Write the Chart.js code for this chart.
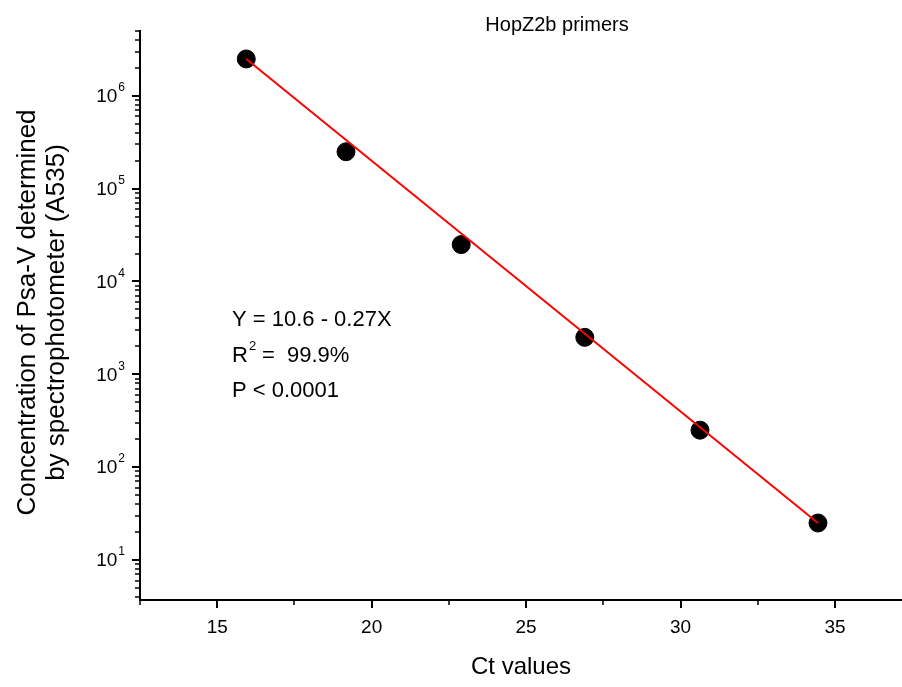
<!DOCTYPE html>
<html>
<head>
<meta charset="utf-8">
<script src="https://cdn.jsdelivr.net/npm/chart.js@4"></script>
<style>html,body{margin:0;padding:0;background:#fff;}</style>
</head>
<body>
<canvas id="c" width="902" height="687"></canvas>
<script>
// data
const ctValues = [15.94, 19.17, 22.9, 26.9, 30.63, 34.45];
const concentration = [2.5e6, 2.5e5, 2.5e4, 2.5e3, 250, 25];
// regression line end points
const fitX = [15.94, 34.45];
const fitY = [2.5e6, 25];
const xTicks = [15, 20, 25, 30, 35];
const xMinor = [12.5, 17.5, 22.5, 27.5, 32.5, 37.5];
const yTicks = [10, 100, 1e3, 1e4, 1e5, 1e6];
const yExp = ['1', '2', '3', '4', '5', '6'];

const FONT = '"Liberation Sans", Arial, sans-serif';

// minor log ticks 2..9 per decade
function yMinorTicks(min, max){
  const out = [];
  for(let d = 0; d <= 6; d++){
    for(let k = 2; k <= 9; k++){
      const v = k * Math.pow(10, d);
      if(v >= min && v <= max) out.push(v);
    }
  }
  return out;
}

const decor = {
  id: 'decor',
  afterDraw(chart){
    const c = chart.ctx, xs = chart.scales.x, ys = chart.scales.y, a = chart.chartArea;
    c.save();
    c.strokeStyle = '#000';
    c.fillStyle = '#000';
    // minor ticks
    c.lineWidth = 1.5;
    c.beginPath();
    xMinor.forEach(v => {
      if(v < xs.min || v > xs.max) return;
      const px = Math.round(xs.getPixelForValue(v));
      c.moveTo(px, a.bottom); c.lineTo(px, a.bottom + 5);
    });
    yMinorTicks(ys.min, ys.max).forEach(v => {
      const py = Math.round(ys.getPixelForValue(v));
      c.moveTo(a.left, py); c.lineTo(a.left - 5, py);
    });
    c.stroke();

    // y tick labels 10^n
    c.textBaseline = 'middle';
    yTicks.forEach((v, i) => {
      const py = ys.getPixelForValue(v);
      c.font = '12px ' + FONT;
      const ew = c.measureText(yExp[i]).width;
      c.textAlign = 'left';
      c.fillText(yExp[i], 125 - ew, py - 8);
      c.font = '19px ' + FONT;
      c.textAlign = 'right';
      c.fillText('10', 125 - ew - 1, py + 1);
    });

    // y axis title
    c.save();
    c.translate(0, (a.top + a.bottom) / 2 - 3);
    c.rotate(-Math.PI / 2);
    c.textAlign = 'center';
    c.font = '26px ' + FONT;
    c.fillText('Concentration of Psa-V determined', 0, 28);
    c.fillText('by spectrophotometer (A535)', 0, 57);
    c.restore();

    // chart title
    c.textAlign = 'center';
    c.font = '20px ' + FONT;
    c.fillText('HopZ2b primers', 557, 25);

    // regression stats
    c.textAlign = 'left';
    c.textBaseline = 'alphabetic';
    c.font = '22px ' + FONT;
    c.fillText('Y = 10.6 - 0.27X', 232, 326);
    c.fillText('R', 232, 362);
    const rw = c.measureText('R').width;
    c.font = '13px ' + FONT;
    c.fillText('2', 232 + rw + 1, 350);
    c.font = '22px ' + FONT;
    c.fillText('=  99.9%', 232 + rw + 14, 362);
    c.fillText('P < 0.0001', 232, 397);
    c.restore();
  }
};

new Chart(document.getElementById('c'), {
  type: 'scatter',
  data: {
    datasets: [
      {
        data: fitX.map((x, i) => ({x: x, y: fitY[i]})),
        showLine: true, borderColor: '#ff0000', borderWidth: 2,
        pointRadius: 0, order: 0
      },
      {
        data: ctValues.map((x, i) => ({x: x, y: concentration[i]})),
        backgroundColor: '#000', borderColor: '#000',
        pointRadius: 9, order: 1
      }
    ]
  },
  options: {
    responsive: false, animation: false, devicePixelRatio: 1,
    layout: {autoPadding: false, padding: {top: 31, right: 0, left: 0, bottom: 0}},
    plugins: {legend: {display: false}, tooltip: {enabled: false}},
    scales: {
      x: {
        type: 'linear', min: 12.5, max: 37.17,
        afterBuildTicks: s => { s.ticks = xTicks.map(v => ({value: v})); },
        afterFit: s => { s.height = 87; s.paddingLeft = 0; s.paddingRight = 0; },
        grid: {drawOnChartArea: false, tickLength: 8, color: '#000', lineWidth: 2},
        border: {color: '#000', width: 2},
        ticks: {color: '#000', font: {family: FONT, size: 19}, padding: 8, maxRotation: 0},
        title: {display: true, text: 'Ct values', color: '#000', font: {family: FONT, size: 24}, padding: {top: 4, bottom: 5}}
      },
      y: {
        type: 'logarithmic', min: 3.7, max: 5e6,
        afterBuildTicks: s => { s.ticks = yTicks.map(v => ({value: v})); },
        afterFit: s => { s.width = 140; s.paddingTop = 0; s.paddingBottom = 0; },
        grid: {drawOnChartArea: false, tickLength: 8, color: '#000', lineWidth: 2},
        border: {color: '#000', width: 2},
        ticks: {callback: () => ''}
      }
    }
  },
  plugins: [decor]
});
</script>
</body>
</html>
